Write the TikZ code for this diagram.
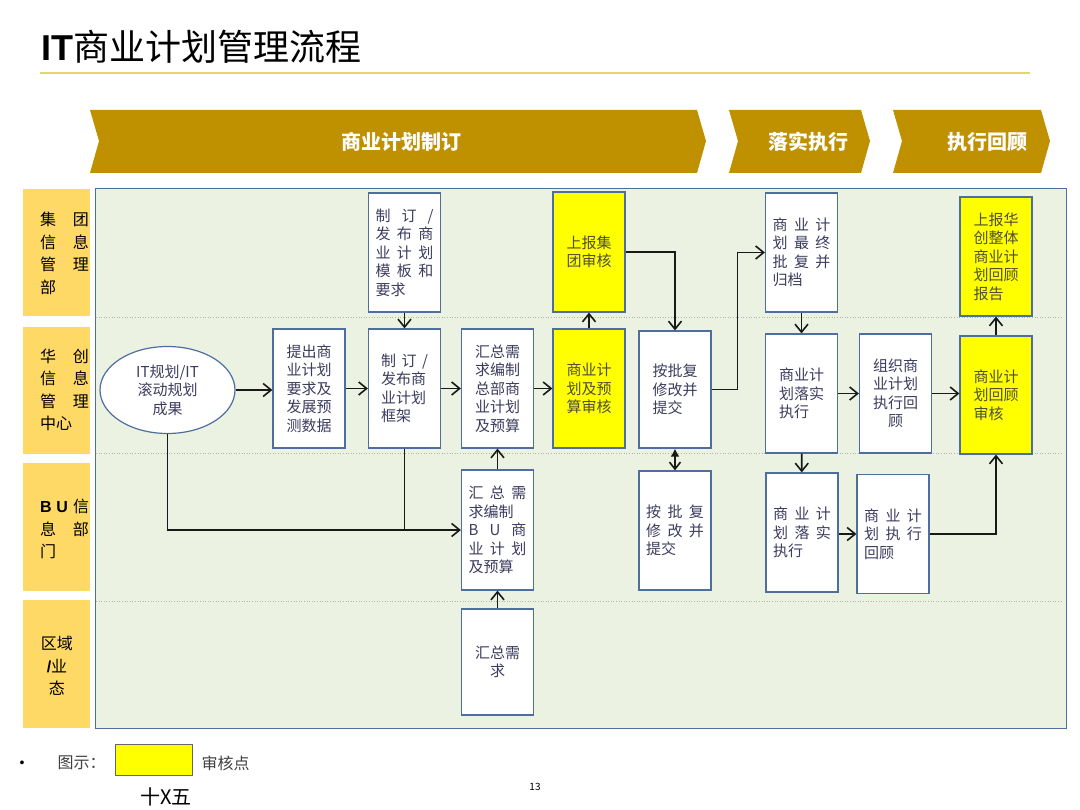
\documentclass[tikz,border=0pt]{standalone}
\usepackage{fontspec}
\setmainfont{Noto Sans CJK SC}
\newfontfamily\latinbold{Liberation Sans}
\usetikzlibrary{arrows.meta,shapes.geometric}
\definecolor{planchevron}{RGB}{191,144,0}
\definecolor{planlane}{RGB}{255,217,102}
\definecolor{planarea}{RGB}{235,242,225}
\definecolor{planedge}{RGB}{79,110,160}
\definecolor{planink}{RGB}{60,60,95}
\definecolor{auditink}{RGB}{78,78,58}
\definecolor{planaudit}{RGB}{255,255,0}
\definecolor{planrule}{RGB}{226,214,110}
\newcommand\spreadline[2]{\hbox to #1pt{#2}}

\begin{document}
\begin{tikzpicture}[x=1pt,y=-1pt,font=\fontsize{15}{18.5}\selectfont,
  flowbox/.style={draw=planedge,fill=white,line width=1.2pt,minimum width=72pt,
    minimum height=119pt,inner sep=0pt,align=left,text=planink},
  auditbox/.style={flowbox,fill=planaudit,text=auditink},
  flow/.style={line width=1.6pt,draw=black!90,-{Straight Barb[length=8pt,width=13pt]}},
  lanetext/.style={font=\fontsize{16}{22.5}\selectfont,align=left}]
\path[use as bounding box] (0,0) rectangle (1080,810);
% title and rule
\node[anchor=west,font=\fontsize{36}{40}\selectfont] (title) at (38,47)
  {{\latinbold\bfseries IT}商业计划管理流程};
\draw[planrule,line width=1.1pt] (40,73) -- (1030,73);
% phase chevrons
\fill[planchevron] (90,110) -- (697,110) -- (706,141) -- (697,173) -- (90,173) -- (99,141) -- cycle;
\fill[planchevron] (729,110) -- (861,110) -- (870,141) -- (861,173) -- (729,173) -- (738,141) -- cycle;
\fill[planchevron] (893,110) -- (1041,110) -- (1050,141) -- (1041,173) -- (893,173) -- (902,141) -- cycle;
\node[text=white,font=\bfseries\fontsize{20}{22}\selectfont] (phasedraft) at (401,142) {商业计划制订};
\node[text=white,font=\bfseries\fontsize{20}{22}\selectfont] (phaserun) at (808,142) {落实执行};
\node[text=white,font=\bfseries\fontsize{20}{22}\selectfont] (phasereview) at (987,142) {执行回顾};
% swimlanes
\filldraw[fill=planarea,draw=planedge,line width=1pt] (95,189) rectangle (1066,728);
\foreach \y in {317,453,601}
  \draw[black!30,dotted,line width=0.6pt] (96,\y) -- (1062,\y);
\fill[planlane] (23,189) rectangle (90,316);
\fill[planlane] (23,327) rectangle (90,454);
\fill[planlane] (23,463) rectangle (90,591);
\fill[planlane] (23,600) rectangle (90,728);
\node[lanetext] (lanegroup) at (64.5,253.5)
  {\spreadline{49}{集\hfill 团}\\\spreadline{49}{信\hfill 息}\\\spreadline{49}{管\hfill 理}\\部};
\node[lanetext] (lanecenter) at (64.5,390)
  {\spreadline{49}{华\hfill 创}\\\spreadline{49}{信\hfill 息}\\\spreadline{49}{管\hfill 理}\\中心};
\node[lanetext] (lanebu) at (64.5,529)
  {\spreadline{49}{{\latinbold\bfseries B}\hfill{\latinbold\bfseries U}\hfill 信}\\\spreadline{49}{息\hfill 部}\\门};
\node[lanetext,align=center] (laneregion) at (57,666)
  {区域\\{\latinbold\bfseries /}业\\态};
% flow steps
\node[ellipse,draw=planedge,fill=white,line width=1.2pt,minimum width=135pt,minimum height=87pt,
  inner sep=0pt,align=center,text=planink] (itplan) at (167.5,390) {IT规划/IT\\滚动规划\\成果};
\node[flowbox,align=center] (planrequest) at (309,388.5) {提出商\\业计划\\要求及\\发展预\\测数据};
\node[flowbox] (templates) at (404.5,252.5)
  {\spreadline{58}{制\hfill 订\hfill /}\\\spreadline{58}{发\hfill 布\hfill 商}\\
   \spreadline{58}{业\hfill 计\hfill 划}\\\spreadline{58}{模\hfill 板\hfill 和}\\要求};
\node[flowbox] (framework) at (404.5,388.5)
  {\spreadline{47}{制\hfill 订\hfill /}\\发布商\\业计划\\框架};
\node[flowbox] (hqbudget) at (497.5,388.5) {汇总需\\求编制\\总部商\\业计划\\及预算};
\node[auditbox,minimum height=120pt] (groupaudit) at (589,252) {上报集\\团审核};
\node[auditbox] (budgetaudit) at (589,388.5) {商业计\\划及预\\算审核};
\node[flowbox,minimum height=117pt] (revise) at (675,389.5) {按批复\\修改并\\提交};
\node[flowbox] (approval) at (801.5,252.5)
  {\spreadline{58}{商\hfill 业\hfill 计}\\\spreadline{58}{划\hfill 最\hfill 终}\\
   \spreadline{58}{批\hfill 复\hfill 并}\\归档};
\node[flowbox] (execute) at (801.5,393.5) {商业计\\划落实\\执行};
\node[flowbox,align=center] (review) at (895.5,393.5) {组织商\\业计划\\执行回\\顾};
\node[auditbox,minimum height=118pt] (reviewaudit) at (996,395) {商业计\\划回顾\\审核};
\node[auditbox] (groupreport) at (996,256.5) {上报华\\创整体\\商业计\\划回顾\\报告};
\node[flowbox,minimum height=120pt] (bubudget) at (497.5,530)
  {\spreadline{58}{汇\hfill 总\hfill 需}\\求编制\\\spreadline{58}{B\hfill U\hfill 商}\\
   \spreadline{58}{业\hfill 计\hfill 划}\\及预算};
\node[flowbox,minimum height=106pt,align=center] (regiondemand) at (497.5,662) {汇总需\\求};
\node[flowbox] (burevise) at (675,530.5)
  {\spreadline{58}{按\hfill 批\hfill 复}\\\spreadline{58}{修\hfill 改\hfill 并}\\提交};
\node[flowbox] (buexecute) at (802,532.5)
  {\spreadline{58}{商\hfill 业\hfill 计}\\\spreadline{58}{划\hfill 落\hfill 实}\\执行};
\node[flowbox] (bureview) at (893,534)
  {\spreadline{58}{商\hfill 业\hfill 计}\\\spreadline{58}{划\hfill 执\hfill 行}\\回顾};
% connectors
\draw[flow] (itplan.east) -- (itplan.east -| planrequest.west);
\draw[flow] (planrequest) -- (framework);
\draw[flow] (templates) -- (framework);
\draw[flow] (framework) -- (hqbudget);
\draw[flow] (hqbudget) -- (budgetaudit);
\draw[flow] (budgetaudit) -- (groupaudit);
\draw[flow] (groupaudit.east) -| (revise.north);
\draw[flow] (revise.east) -- ++(26,0) |- (approval.west);
\draw[flow] (approval) -- (execute);
\draw[flow] (execute) -- (review);
\draw[flow] (review.east) -- (review.east -| reviewaudit.west);
\draw[flow] (reviewaudit) -- (groupreport);
\draw[flow] (itplan.south) |- (bubudget.west);
\draw[line width=1.6pt,black!90] (framework.south) -- (framework.south |- bubudget.west);
\draw[flow] (regiondemand) -- (bubudget);
\draw[flow] (bubudget) -- (hqbudget);
\draw[line width=1.6pt,black!90,{Latex[length=8pt,width=9pt]}-{Straight Barb[length=7pt,width=11pt]}]
  (revise.south) -- (burevise.north);
\draw[flow] (execute) -- (buexecute);
\draw[flow] (buexecute.east |- bureview.west) -- (bureview.west);
\draw[flow] (bureview.east) -| (reviewaudit.south);
% legend
\node[font=\latinbold\fontsize{14}{16}\selectfont] (bullet) at (22,764) {•};
\node[anchor=west,text=black!75,font=\fontsize{16}{18}\selectfont] (legendlabel) at (54,763) {图示：};
\node[draw=black!60,fill=planaudit,minimum width=77pt,minimum height=31pt,inner sep=0pt] (legendbox) at (153.5,759.5) {};
\node[anchor=west,text=black!75,font=\fontsize{16}{18}\selectfont] (legendtext) at (198,763) {审核点};
\node[font=\fontsize{10}{11}\selectfont] (pagenum) at (535,787) {13};
\node[font=\fontsize{20}{22}\selectfont] (footcut) at (166,797) {十X五};
\end{tikzpicture}
\end{document}
